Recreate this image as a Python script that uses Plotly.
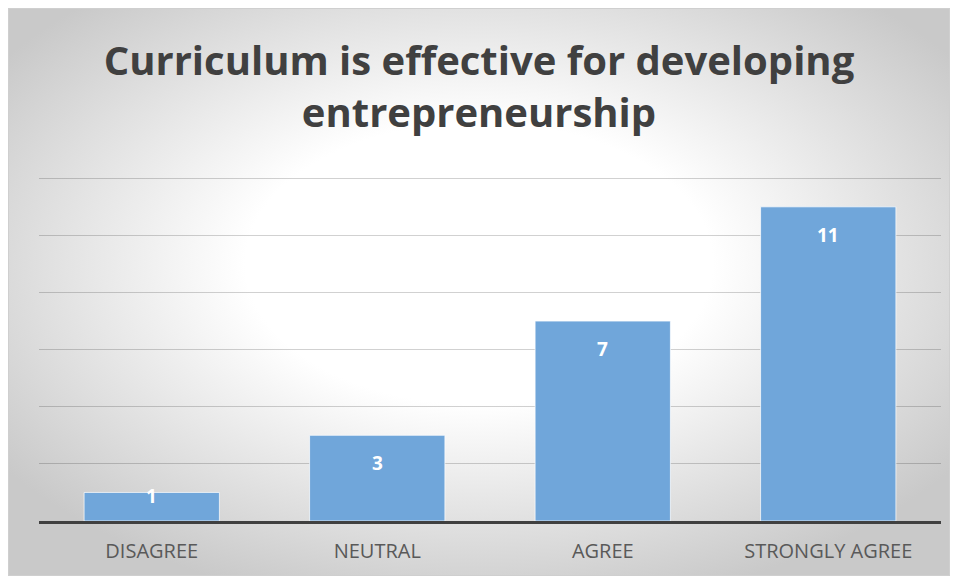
import base64
import plotly.graph_objects as go

categories = ["DISAGREE", "NEUTRAL", "AGREE", "STRONGLY AGREE"]
counts = [1, 3, 7, 11]
title_text = "Curriculum is effective for developing<br>entrepreneurship"

# the page adds an 8px white body margin, which gives the white frame
W, H = 942, 568
y_top = 12.5  # a bit above 12 so the top gridline is drawn
margin = {"l": 31, "r": 9, "t": 156, "b": 55}
plot_w = W - margin["l"] - margin["r"]
plot_h = H - margin["t"] - margin["b"]

# radial gradient background of the chart box (as an svg image)
svg = (
    '<svg xmlns="http://www.w3.org/2000/svg" width="942" height="568" preserveAspectRatio="none">'
    '<defs><radialGradient id="g" cx="50%" cy="45%" r="62%">'
    '<stop offset="0" stop-color="#ffffff"/><stop offset="0.4" stop-color="#ffffff"/>'
    '<stop offset="1" stop-color="#c9c9c9"/></radialGradient></defs>'
    '<rect width="942" height="568" fill="url(#g)" stroke="#cfcfcf" stroke-width="2"/></svg>'
)
bg_src = "data:image/svg+xml;base64," + base64.b64encode(svg.encode()).decode()

fig = go.Figure()
fig.add_bar(
    x=categories,
    y=counts,
    marker={"color": "#70a6da", "line": {"color": "rgba(255,255,255,0.7)", "width": 1}},
    hoverinfo="x+y",
)

bar_px = plot_h / y_top
for cat, val in zip(categories, counts):
    shift = min(28, val * bar_px - 25)
    fig.add_annotation(
        x=cat, y=val, yshift=-shift, text=str(val), showarrow=False,
        font={"family": "Open Sans", "size": 19, "color": "white", "weight": "bold"},
        yanchor="middle",
    )

fig.add_layout_image(
    source=bg_src, xref="paper", yref="paper",
    x=-margin["l"] / plot_w, y=1 + margin["t"] / plot_h,
    sizex=W / plot_w, sizey=H / plot_h,
    xanchor="left", yanchor="top", sizing="stretch", layer="below",
)

fig.update_layout(
    width=W, height=H,
    margin=margin,
    paper_bgcolor="white",
    plot_bgcolor="rgba(0,0,0,0)",
    bargap=0.4,
    showlegend=False,
    title={
        "text": title_text, "x": 0.5, "xanchor": "center", "y": 1 - 67 / H, "yanchor": "middle",
        "font": {"family": "Open Sans", "size": 40, "color": "#404040", "weight": "bold"},
    },
    xaxis={
        "showgrid": False, "showline": True, "linecolor": "#404040", "linewidth": 3,
        "tickfont": {"family": "Open Sans", "size": 20, "color": "#595959"},
        "ticks": "", "ticklabelstandoff": 10,
    },
    yaxis={
        "range": [0, y_top], "tickvals": [2, 4, 6, 8, 10, 12], "showticklabels": False,
        "zeroline": False, "gridcolor": "rgba(0,0,0,0.18)", "gridwidth": 1,
    },
)

fig.write_html("out.html")
